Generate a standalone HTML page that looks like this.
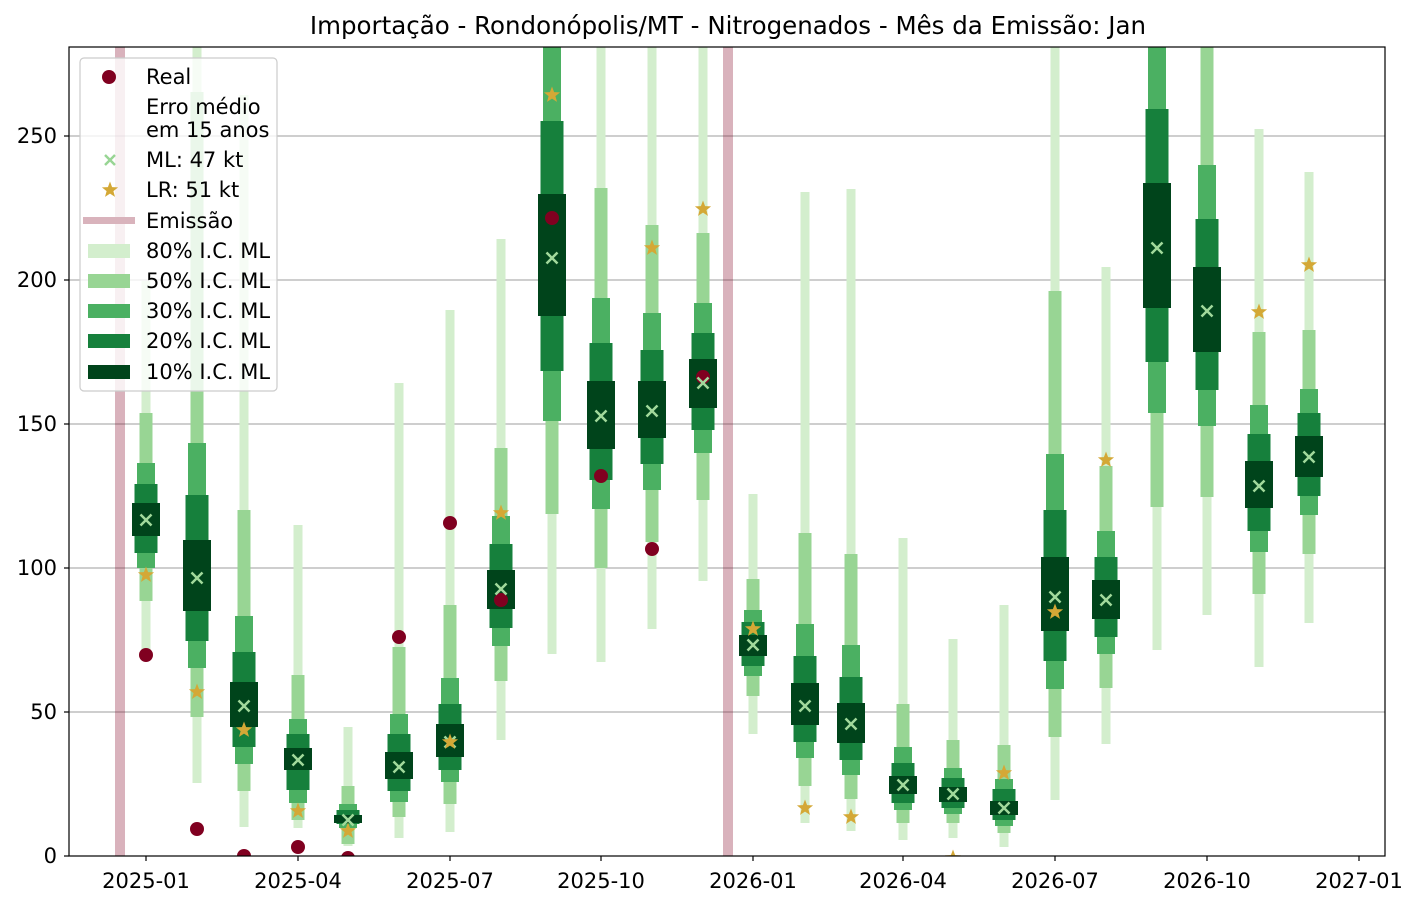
<!DOCTYPE html>
<html><head><meta charset="utf-8"><style>
body{margin:0;background:#fff;}
svg{display:block;font-family:"DejaVu Sans","Liberation Sans",sans-serif;}
</style></head><body>
<svg id="s" width="1419" height="906" viewBox="0 0 1419 906" xmlns="http://www.w3.org/2000/svg">
<defs><clipPath id="c"><rect x="69" y="47" width="1316" height="809"/></clipPath></defs>
<rect width="1419" height="906" fill="#fff"/>
<text x="728" y="34" font-size="24.5" text-anchor="middle" fill="#000">Importação - Rondonópolis/MT - Nitrogenados - Mês da Emissão: Jan</text>
<g stroke="#b0b0b0" stroke-width="1.2">
<line x1="69" x2="1385" y1="712" y2="712"/><line x1="69" x2="1385" y1="568" y2="568"/>
<line x1="69" x2="1385" y1="424" y2="424"/><line x1="69" x2="1385" y1="280" y2="280"/>
<line x1="69" x2="1385" y1="136" y2="136"/>
</g>
<g id="plot" clip-path="url(#c)">
<rect x="115" y="47" width="10" height="809" fill="#800020" opacity="0.3"/>
<rect x="723" y="47" width="10" height="809" fill="#800020" opacity="0.3"/>
</g>
<rect x="69" y="47" width="1316" height="809" fill="none" stroke="#000" stroke-width="1.2"/>
<g stroke="#000" stroke-width="1.2">
<line x1="64" x2="69" y1="856" y2="856"/><line x1="64" x2="69" y1="712" y2="712"/><line x1="64" x2="69" y1="568" y2="568"/><line x1="64" x2="69" y1="424" y2="424"/><line x1="64" x2="69" y1="280" y2="280"/><line x1="64" x2="69" y1="136" y2="136"/>
<line x1="146" x2="146" y1="856" y2="861"/><line x1="298" x2="298" y1="856" y2="861"/><line x1="450" x2="450" y1="856" y2="861"/><line x1="601" x2="601" y1="856" y2="861"/><line x1="753" x2="753" y1="856" y2="861"/><line x1="903" x2="903" y1="856" y2="861"/><line x1="1055" x2="1055" y1="856" y2="861"/><line x1="1207" x2="1207" y1="856" y2="861"/><line x1="1359" x2="1359" y1="856" y2="861"/>
</g>
<g font-size="21" fill="#000" text-anchor="end">
<text x="57" y="863">0</text><text x="57" y="719">50</text><text x="57" y="575">100</text><text x="57" y="431">150</text><text x="57" y="287">200</text><text x="57" y="143">250</text>
</g>
<g font-size="21" fill="#000" text-anchor="middle">
<text x="146" y="888">2025-01</text><text x="298" y="888">2025-04</text><text x="450" y="888">2025-07</text><text x="601" y="888">2025-10</text><text x="753" y="888">2026-01</text><text x="903" y="888">2026-04</text><text x="1055" y="888">2026-07</text><text x="1207" y="888">2026-10</text><text x="1359" y="888">2027-01</text>
</g>
<g id="legend">
<rect x="80" y="58" width="197" height="333" rx="4" fill="#fff" fill-opacity="0.8" stroke="#cccccc" stroke-width="1.2"/>
<circle cx="109" cy="77" r="7" fill="#800020"/>
<g stroke="#98d594" stroke-width="2.5"><line x1="105" y1="155" x2="115" y2="165"/><line x1="105" y1="165" x2="115" y2="155"/></g>
<polygon id="lstar" fill="#d4a836" points=""/>
<rect x="83" y="217" width="52" height="7" fill="#d9b3bc"/>
<rect x="88" y="244" width="42" height="14" fill="#d3eecd"/>
<rect x="88" y="274" width="42" height="14" fill="#98d594"/>
<rect x="88" y="304" width="42" height="14" fill="#4bb062"/>
<rect x="88" y="334" width="42" height="14" fill="#16803c"/>
<rect x="88" y="365" width="42" height="14" fill="#00441b"/>
<g font-size="21" fill="#000">
<text x="146" y="84">Real</text>
<text x="146" y="114">Erro médio</text>
<text x="146" y="137">em 15 anos</text>
<text x="146" y="167">ML: 47 kt</text>
<text x="146" y="197">LR: 51 kt</text>
<text x="146" y="228">Emissão</text>
<text x="146" y="258">80% I.C. ML</text>
<text x="146" y="288">50% I.C. ML</text>
<text x="146" y="318">30% I.C. ML</text>
<text x="146" y="348">20% I.C. ML</text>
<text x="146" y="379">10% I.C. ML</text>
</g>
</g>
</svg>
<script>
var D=[
[146,[281,650],[413,601],[463,568],[484,553],[503,536],520,655,575],
[197,[40,783],[92,717],[443,668],[495,641],[540,611],578,829,692],
[244,[95,827],[510,791],[616,764],[652,747],[682,727],706,856,730],
[298,[525,828],[675,820],[719,803],[734,790],[748,770],760,847,811],
[348,[727,846],[786,844],[804,828],[810,824],[815,823],820,858,831],
[399,[383,838],[647,817],[714,802],[734,791],[752,779],767,637,null],
[450,[310,832],[605,804],[678,782],[704,770],[724,757],742,523,742],
[501,[239,740],[448,681],[516,646],[544,628],[570,609],589,600,513],
[552,[40,654],[40,514],[40,421],[121,371],[194,316],258,218,95],
[601,[40,662],[188,568],[298,509],[343,480],[381,449],416,476,null],
[652,[40,629],[225,542],[313,490],[350,464],[381,438],411,549,248],
[703,[40,581],[233,500],[303,453],[333,430],[359,408],383,377,209],
[753,[494,734],[579,696],[610,676],[622,666],[635,656],645,null,629],
[805,[192,823],[533,786],[624,758],[656,742],[683,725],706,null,808],
[851,[189,831],[554,799],[645,775],[677,760],[703,743],724,null,817],
[903,[538,840],[704,823],[747,810],[763,803],[776,794],785,null,null],
[953,[639,838],[740,823],[768,814],[778,808],[787,802],794,null,858],
[1004,[605,847],[745,833],[779,826],[789,820],[801,815],808,null,773],
[1055,[40,800],[291,737],[454,689],[510,661],[557,631],597,null,612],
[1106,[267,744],[466,688],[531,654],[557,637],[580,619],600,null,460],
[1157,[40,650],[40,507],[40,413],[109,362],[183,308],248,null,null],
[1207,[40,615],[40,497],[165,426],[219,390],[267,352],311,null,null],
[1259,[129,667],[332,594],[405,552],[434,531],[461,508],486,null,312],
[1309,[172,623],[330,554],[389,515],[413,496],[436,477],457,null,265]];
var C=["#d3eecd","#98d594","#4bb062","#16803c","#00441b"],W=[9,13,18,23,28];
var NS="http://www.w3.org/2000/svg",P=document.getElementById("plot");
function el(t,a,p){var e=document.createElementNS(NS,t);for(var k in a)e.setAttribute(k,a[k]);(p||P).appendChild(e);return e;}
function star(cx,cy,R){var r=R*0.42,s="";for(var i=0;i<10;i++){var rr=i%2?r:R,a=-Math.PI/2+i*Math.PI/5;s+=(cx+rr*Math.cos(a)).toFixed(1)+","+(cy+rr*Math.sin(a)).toFixed(1)+" ";}return s;}
D.forEach(function(d){var x=d[0];
for(var i=0;i<5;i++){el("rect",{x:x-W[i]/2,y:d[i+1][0],width:W[i],height:d[i+1][1]-d[i+1][0],fill:C[i]});}
});
D.forEach(function(d){var x=d[0];
if(d[7]!==null)el("circle",{cx:x,cy:d[7],r:7,fill:"#800020"});
var y=d[6],h=5.5;
el("path",{d:"M"+(x-h)+" "+(y-h)+"L"+(x+h)+" "+(y+h)+"M"+(x-h)+" "+(y+h)+"L"+(x+h)+" "+(y-h),stroke:"#a1d99b","stroke-width":2.5,fill:"none"});
if(d[8]!==null)el("polygon",{points:star(x,d[8],8.5),fill:"#d4a836"});
});
document.getElementById("lstar").setAttribute("points",star(110,190,8.5));
</script>
</body></html>
